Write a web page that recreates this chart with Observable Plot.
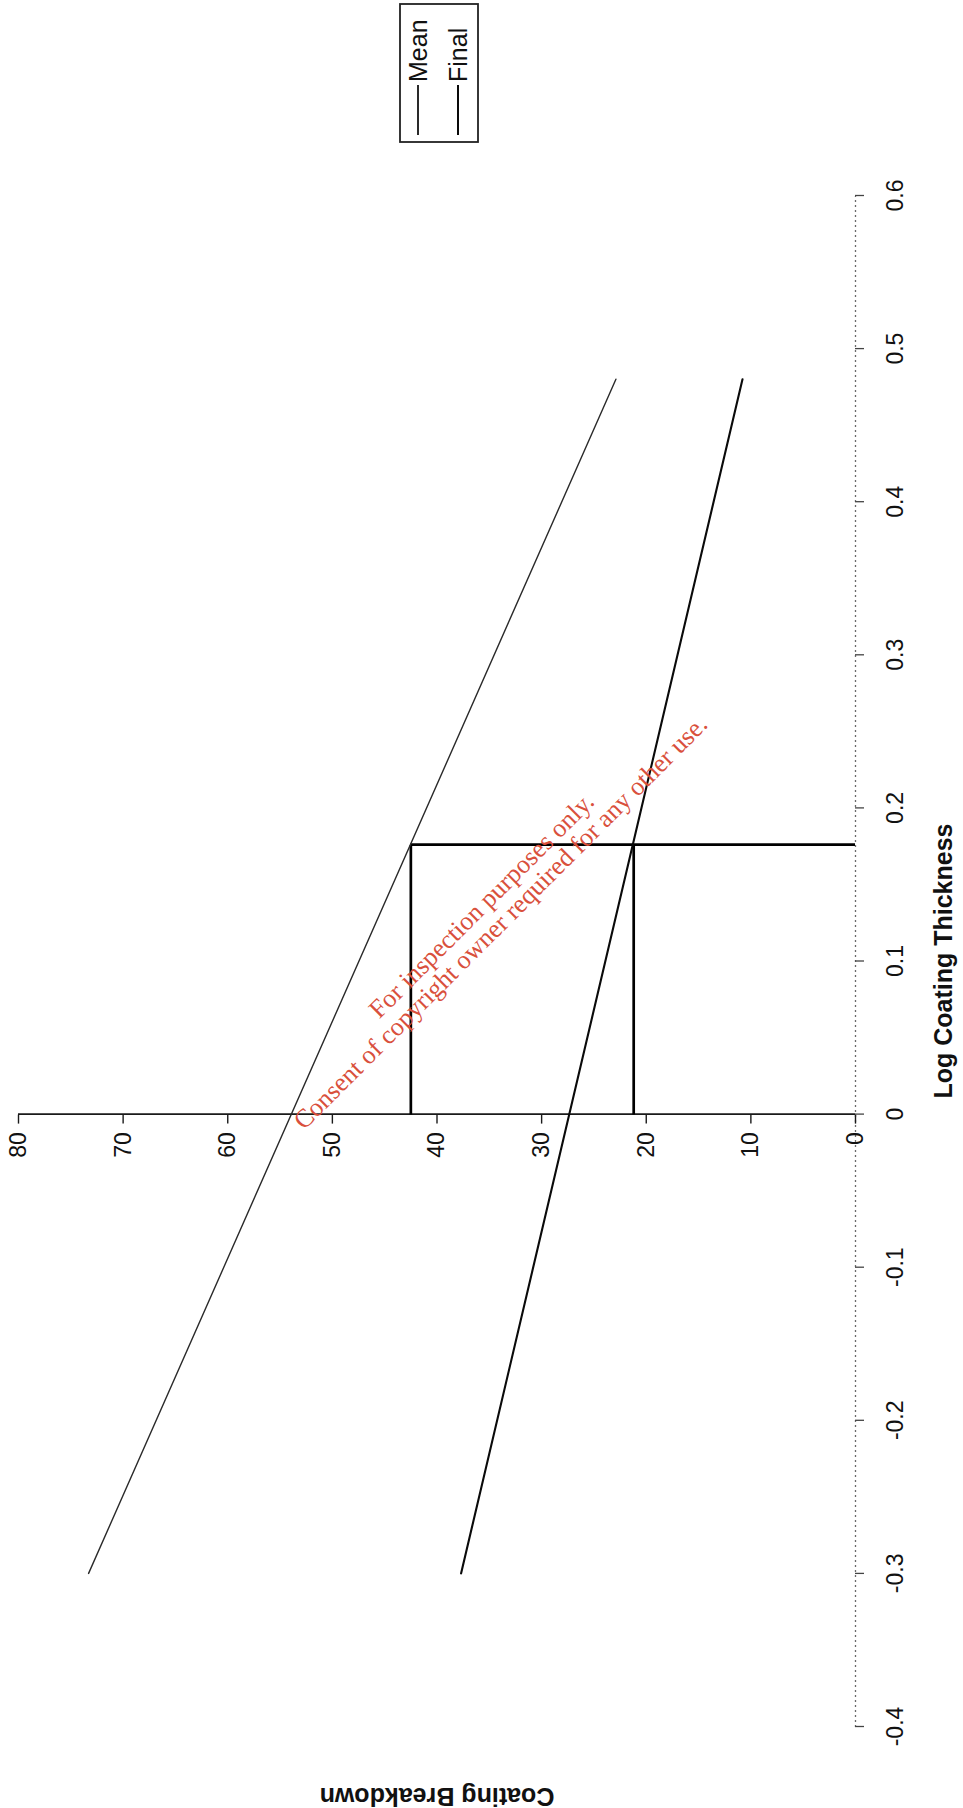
<!DOCTYPE html>
<html>
<head>
<meta charset="utf-8">
<script src="https://cdn.jsdelivr.net/npm/d3@7"></script>
<script src="https://cdn.jsdelivr.net/npm/@observablehq/plot@0.6"></script>
<style>
html, body { margin:0; padding:0; background:#fff; width:963px; height:1808px; overflow:hidden; }
#page { position:relative; width:963px; height:1808px; background:#fff; }
#rot { position:absolute; left:0; top:0; width:1808px; height:963px; transform-origin:0 0; transform: translate(0px,1808px) rotate(-90deg); }
#legend { position:absolute; left:1665px; top:399px; }
#wm { position:absolute; left:0; top:0; pointer-events:none; }
</style>
</head>
<body>
<div id="page"><div id="rot"></div><svg id="wm" width="963" height="1808"></svg></div>
<script>
// ---- data ----
const xTicks = [-0.4, -0.3, -0.2, -0.1, 0, 0.1, 0.2, 0.3, 0.4, 0.5, 0.6];
const xTickLabels = ["-0.4", "-0.3", "-0.2", "-0.1", "0", "0.1", "0.2", "0.3", "0.4", "0.5", "0.6"];
const yTicks = [0, 10, 20, 30, 40, 50, 60, 70, 80];
const yTickLabels = ["0", "10", "20", "30", "40", "50", "60", "70", "80"];
const seriesNames = ["Mean", "Final"];
const lineX = [-0.3, 0.48];          // Log Coating Thickness at line ends
const meanY = [73.3, 22.9];          // Coating Breakdown, Mean line
const finalY = [37.7, 10.8];         // Coating Breakdown, Final line
const refX = 0.176;                  // reference thickness
const refY = [42.5, 21.2];           // breakdown at reference thickness (Mean, Final)
const xTitle = "Log Coating Thickness";
const yTitle = "Coating Breakdown";
const watermark = ["For inspection purposes only.", "Consent of copyright owner required for any other use."];

const seriesY = {Mean: meanY, Final: finalY};
const seriesStyle = {Mean: {stroke: "#2a2a2a", width: 1.4}, Final: {stroke: "#0a0a0a", width: 2.1}};
const lines = seriesNames.flatMap(s => lineX.map((x, j) => ({series: s, x, y: seriesY[s][j]})));

const W = 1808, H = 963;
const chart = Plot.plot({
  width: W, height: H,
  marginLeft: 81, marginRight: 196, marginTop: 18, marginBottom: 108,
  x: {domain: [xTicks[0], xTicks[xTicks.length - 1]], axis: null},
  y: {domain: [yTicks[0], yTicks[yTicks.length - 1]], axis: null},
  style: {fontFamily: "'Liberation Sans', Arial, sans-serif", background: "#fff", color: "#111", overflow: "visible"},
  marks: [
    // x axis (at breakdown 0)
    Plot.ruleY([yTicks[0]], {x1: xTicks[0], x2: xTicks[xTicks.length - 1], stroke: "#6a6a6a", strokeWidth: 1.3, strokeDasharray: "2,3"}),
    Plot.ruleX(xTicks, {x: d => d, y1: yTicks[0], y2: yTicks[0], insetBottom: -9, stroke: "#444", strokeWidth: 1.3}),
    Plot.text(xTicks, {x: d => d, y: yTicks[0], text: (d, i) => xTickLabels[i], dy: 40, fontSize: 23, fill: "#111"}),
    // y axis (at thickness 0)
    Plot.ruleX([0], {y1: yTicks[0], y2: yTicks[yTicks.length - 1], stroke: "#1a1a1a", strokeWidth: 1.6}),
    Plot.ruleY(yTicks, {y: d => d, x1: 0, x2: 0, insetLeft: -9, stroke: "#1a1a1a", strokeWidth: 1.4}),
    Plot.text(yTicks, {x: 0, y: d => d, text: (d, i) => yTickLabels[i], textAnchor: "end", dx: -18, fontSize: 23, fill: "#111"}),
    // reference lines
    Plot.ruleX([refX], {y1: yTicks[0], y2: refY[0], stroke: "#000", strokeWidth: 2.7}),
    Plot.ruleY(refY, {y: d => d, x1: 0, x2: refX, stroke: "#000", strokeWidth: 2.7}),
    // regression lines
    ...seriesNames.map(s => Plot.line(lines.filter(d => d.series === s), {x: "x", y: "y", stroke: seriesStyle[s].stroke, strokeWidth: seriesStyle[s].width})),
    // axis titles
    Plot.text([xTitle], {frameAnchor: "bottom", textAnchor: "middle", lineAnchor: "middle", dy: 88, fontSize: 25, fontWeight: "bold", fill: "#111"}),
    Plot.text([yTitle], {frameAnchor: "left", textAnchor: "middle", lineAnchor: "middle", rotate: -90, dx: -69, fontSize: 25, fontWeight: "bold", fill: "#111"})
  ]
});
const rot = document.getElementById("rot");
chart.style.position = "absolute";
chart.style.left = "0px";
chart.style.top = "0px";
rot.appendChild(chart);

// legend (boxed, outside plot frame to the right)
const lg = d3.select(rot).append("svg").attr("id", "legend").attr("width", 140).attr("height", 80)
  .style("font-family", "'Liberation Sans', Arial, sans-serif");
lg.append("rect").attr("x", 1).attr("y", 1).attr("width", 138).attr("height", 78)
  .attr("fill", "none").attr("stroke", "#222").attr("stroke-width", 1.8);
const item = lg.selectAll("g.item").data(seriesNames).join("g").attr("class", "item")
  .attr("transform", (d, i) => `translate(0,${19 + i * 40})`);
item.append("line").attr("x1", 8).attr("x2", 58).attr("y1", 0).attr("y2", 0)
  .attr("stroke", d => seriesStyle[d].stroke).attr("stroke-width", 2);
item.append("text").attr("x", 61).attr("y", 0).attr("dy", "0.35em").attr("font-size", 25).attr("fill", "#111").text(d => d);

// scanned watermark overlay
const wm = d3.select("#wm");
const wmPos = [[481, 905], [500, 922]];
wm.selectAll("text").data(watermark).join("text")
  .attr("transform", (d, i) => `translate(${wmPos[i][0]},${wmPos[i][1]}) rotate(-45)`)
  .attr("text-anchor", "middle").attr("dy", "0.35em")
  .attr("font-family", "'Liberation Serif', 'Times New Roman', serif").attr("font-size", 26)
  .attr("fill", "#d9503c").text(d => d);
</script>
</body>
</html>
